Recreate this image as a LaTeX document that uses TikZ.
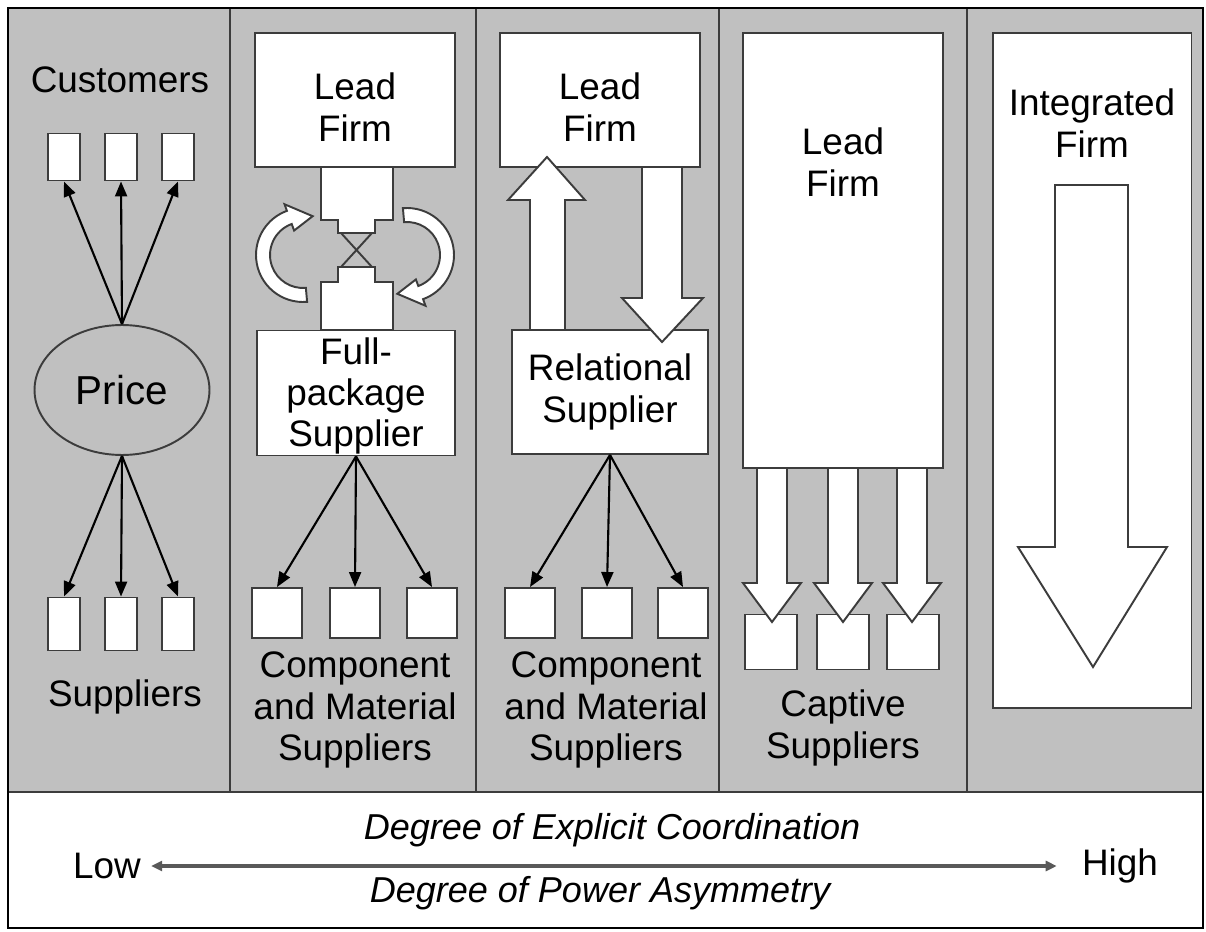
\documentclass[tikz,border=0pt]{standalone}
\usepackage{fontspec}
\setmainfont{Liberation Sans}
\usetikzlibrary{arrows.meta,shapes.geometric,calc}
\definecolor{panelgray}{HTML}{C0C0C0}
\definecolor{edgegray}{HTML}{3C3C3C}

\begin{document}
\begin{tikzpicture}[x=0.02cm, y=0.02cm,
        box/.style={draw=edgegray, fill=white, line width=1.1pt, inner sep=0pt,
                    font=\fontsize{21}{23.5}\selectfont, align=center},
        custbox/.style={box, minimum width=0.64cm, minimum height=0.94cm},
        supbox/.style={box, minimum width=0.64cm, minimum height=1.06cm},
        sqbox/.style={box, minimum width=1cm, minimum height=1cm},
        capbox/.style={box, minimum width=1.04cm, minimum height=1.1cm},
        txt/.style={font=\fontsize{21}{23.5}\selectfont, align=center, inner sep=0pt},
        axlbl/.style={font=\fontsize{20.5}{24}\selectfont\itshape, inner sep=0pt},
        conn/.style={draw=black, line width=1.2pt,
                     -{Triangle[length=0.3cm, width=0.24cm]}},
        blockarr/.style={draw=edgegray, fill=white, line width=1.1pt},
        divider/.style={draw=edgegray, line width=1.3pt}
    ]
    \useasboundingbox (0,0) rectangle (1206,931);

    % Frame and panel dividers
    \fill[panelgray] (8,139) rectangle (1203,923);
    \draw[divider] (8,139) -- (1203,139);
    \foreach \xd in {230,476,719,967}
        \draw[divider] (\xd,139) -- (\xd,923);
    \draw[black, line width=1.6pt] (8,3) rectangle (1203,923);

    % ---- Panel 1: Market ----
    \node[txt] (custlbl) at (120,851) {Customers};
    \node[custbox] (cust1) at (64,774)  {};
    \node[custbox] (cust2) at (121,774) {};
    \node[custbox] (cust3) at (178,774) {};
    \node[ellipse, draw=edgegray, fill=panelgray, line width=1.1pt,
          minimum width=3.5cm, minimum height=2.6cm,
          font=\fontsize{23}{26}\selectfont] (price) at (122,541) {Price};
    \node[supbox] (sup1) at (64,307)  {};
    \node[supbox] (sup2) at (121,307) {};
    \node[supbox] (sup3) at (178,307) {};
    \node[txt] (suplbl) at (125,234) {Suppliers};
    \foreach \i in {1,2,3} {
        \draw[conn] (price.north) -- (cust\i.south);
        \draw[conn] (price.south) -- (sup\i.north);
    }

    % ---- Panel 2: Modular ----
    \node[box, minimum width=4cm, minimum height=2.68cm] (lead1) at (355,831) {};
    \node[txt] (lead1lbl) at (355,824) {Lead\\Firm};
    \node[box, minimum width=3.96cm, minimum height=2.5cm] (full) at (356,538) {};
    \node[txt] (fulllbl) at (356,535) {Full-\\package\\Supplier};
    % linked neck
    \draw[blockarr] (321,764) -- (393,764) -- (393,711) -- (375,711) -- (375,698)
        -- (338,698) -- (338,711) -- (321,711) -- cycle;
    \draw[blockarr] (338,664) -- (375,664) -- (375,649) -- (393,649) -- (393,601)
        -- (321,601) -- (321,649) -- (338,649) -- cycle;
    \draw[edgegray, line width=1.1pt] (341,698) -- (372,664) (372,698) -- (341,664);
    % curved exchange arrows
    \coordinate (lc) at (303,676);
    \coordinate (rc) at (407,676);
    \draw[blockarr] ($(lc)+(-85:47)$) arc[start angle=-85, end angle=-250, radius=0.94cm]
        -- ($(lc)+(110:54)$) -- ($(lc)+(76:40)$) -- ($(lc)+(110:26)$) -- ($(lc)+(110:33)$)
        arc[start angle=110, end angle=275, radius=0.66cm] -- cycle;
    \draw[blockarr] ($(rc)+(95:47)$) arc[start angle=95, end angle=-70, radius=0.94cm]
        -- ($(rc)+(-70:54)$) -- ($(rc)+(-104:40)$) -- ($(rc)+(-70:26)$) -- ($(rc)+(-70:33)$)
        arc[start angle=-70, end angle=95, radius=0.66cm] -- cycle;
    \node[sqbox] (comp1) at (277,318) {};
    \node[sqbox] (comp2) at (355,318) {};
    \node[sqbox] (comp3) at (432,318) {};
    \foreach \i in {1,2,3}
        \draw[conn] (full.south) -- (comp\i.north);
    \node[txt] (complbl) at (355,221) {Component\\and Material\\Suppliers};

    % ---- Panel 3: Relational ----
    \node[box, minimum width=4cm, minimum height=2.68cm] (lead2) at (600,831) {};
    \node[txt] (lead2lbl) at (600,824) {Lead\\Firm};
    \node[box, minimum width=3.92cm, minimum height=2.48cm] (rel) at (610,539) {Relational\\Supplier};
    \draw[blockarr] (530,601) -- (530,731) -- (508,731) -- (547,774) -- (585,731)
        -- (565,731) -- (565,601) -- cycle;
    \draw[blockarr] (642,764) -- (642,633) -- (622,633) -- (662,589) -- (703,633)
        -- (682,633) -- (682,764) -- cycle;
    \node[sqbox] (rmat1) at (530,318) {};
    \node[sqbox] (rmat2) at (607,318) {};
    \node[sqbox] (rmat3) at (683,318) {};
    \foreach \i in {1,2,3}
        \draw[conn] (rel.south) -- (rmat\i.north);
    \node[txt] (rmatlbl) at (606,221) {Component\\and Material\\Suppliers};

    % ---- Panel 4: Captive ----
    \node[box, minimum width=4cm, minimum height=8.7cm] (lead3) at (843,680.5) {};
    \node[txt] (lead3lbl) at (843,769) {Lead\\Firm};
    \node[capbox] (cap1) at (771,289) {};
    \node[capbox] (cap2) at (843,289) {};
    \node[capbox] (cap3) at (913,289) {};
    \foreach \cx in {772,843,912}
        \draw[blockarr] (\cx-15,463) -- (\cx-15,348) -- (\cx-29,348) -- (\cx,309)
            -- (\cx+29,348) -- (\cx+15,348) -- (\cx+15,463) -- cycle;
    \node[txt] (caplbl) at (843,203) {Captive\\Suppliers};

    % ---- Panel 5: Hierarchy ----
    \node[box, minimum width=3.98cm, minimum height=13.5cm] (integ) at (1092,560.5) {};
    \node[txt] (integlbl) at (1092,808) {Integrated\\Firm};
    \draw[blockarr] (1055,746) -- (1055,384) -- (1018,384) -- (1093,264) -- (1167,384)
        -- (1128,384) -- (1128,746) -- cycle;

    % ---- Axis ----
    \node[axlbl] (coord) at (612,101) {Degree of Explicit Coordination};
    \node[axlbl] (power) at (600,38) {Degree of Power Asymmetry};
    \node[txt] (low) at (107,65) {Low};
    \node[txt] (high) at (1120,65) {High};
    \draw[gray!70!black, line width=2pt,
          {Triangle[length=0.22cm, width=0.2cm]}-{Triangle[length=0.22cm, width=0.2cm]}]
        ([xshift=0.2cm]low.east) -- ([xshift=-0.5cm]high.west);
\end{tikzpicture}
\end{document}
